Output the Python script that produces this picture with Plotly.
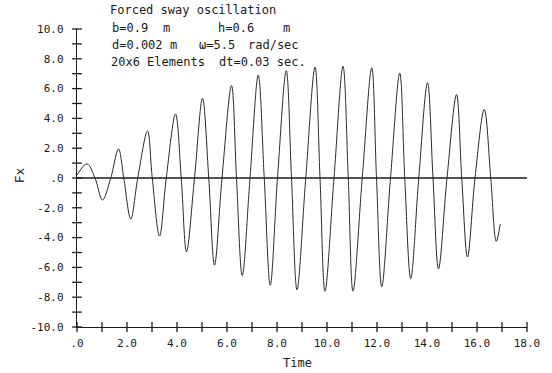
import plotly.graph_objects as go

# --- data ---
# extrema / zero crossings of the Fx(t) trace, in time order
t_pts = [0.00, 0.40, 0.72, 1.02, 1.35, 1.66, 1.87, 2.15, 2.43, 2.82, 3.01, 3.30, 3.57,
         3.94, 4.17, 4.38, 4.70, 5.02, 5.27, 5.50, 5.80, 6.18, 6.38, 6.61, 6.92,
         7.25, 7.49, 7.73, 8.02, 8.37, 8.58, 8.80, 9.15, 9.52, 9.72, 9.92, 10.28,
         10.64, 10.85, 11.04, 11.41, 11.79, 11.98, 12.19, 12.54, 12.91, 13.11, 13.35,
         13.67, 14.02, 14.24, 14.46, 14.80, 15.18, 15.39, 15.62, 15.92, 16.29, 16.55,
         16.77, 16.93]
fx_pts = [0.20, 0.95, 0.0, -1.48, 0.0, 1.95, 0.0, -2.75, 0.0, 3.15, 0.0, -3.90, 0.0,
          4.30, 0.0, -4.95, 0.0, 5.35, 0.0, -5.85, 0.0, 6.20, 0.0, -6.55, 0.0,
          6.90, 0.0, -7.20, 0.0, 7.20, 0.0, -7.50, 0.0, 7.45, 0.0, -7.60, 0.0,
          7.50, 0.0, -7.60, 0.0, 7.40, 0.0, -7.30, 0.0, 7.05, 0.0, -6.75, 0.0,
          6.40, 0.0, -6.10, 0.0, 5.60, 0.0, -5.30, 0.0, 4.60, 0.0, -4.25, -3.10]

x_ticks = [0, 2, 4, 6, 8, 10, 12, 14, 16, 18]
x_tick_labels = [".0", "2.0", "4.0", "6.0", "8.0", "10.0", "12.0", "14.0", "16.0", "18.0"]
y_ticks = [10, 8, 6, 4, 2, 0, -2, -4, -6, -8, -10]
y_tick_labels = ["10.0", "8.0", "6.0", "4.0", "2.0", ".0", "-2.0", "-4.0", "-6.0", "-8.0", "-10.0"]
x_minor = list(range(0, 19))
y_minor = list(range(-10, 11))
zero_line_t = [0, 18]
zero_line_v = [0, 0]

W, H = 552, 373
L, R, T, B = 77, 23, 29, 46
PW, PH = W - L - R, H - T - B
FONT = "DejaVu Sans Mono"
INK = "#1a1a1a"


def px(x):
    return (x - L) / PW


def py(y):
    return (H - B - y) / PH


fig = go.Figure()
fig.add_trace(go.Scatter(x=zero_line_t, y=zero_line_v, mode="lines",
                         line=dict(color=INK, width=1.4), hoverinfo="skip"))
fig.add_trace(go.Scatter(x=t_pts, y=fx_pts, mode="lines",
                         line=dict(color="#2a2a2a", width=1.0, shape="spline", smoothing=1.0),
                         hoverinfo="skip"))
# cross-shaped tick marks on both axes
fig.add_trace(go.Scatter(x=x_minor, y=[-10] * len(x_minor), mode="markers",
                         marker=dict(symbol="line-ns", size=7, line=dict(color=INK, width=1.3)),
                         cliponaxis=False, hoverinfo="skip"))
fig.add_trace(go.Scatter(x=[0] * len(y_minor), y=y_minor, mode="markers",
                         marker=dict(symbol="line-ew", size=7, line=dict(color=INK, width=1.3)),
                         cliponaxis=False, hoverinfo="skip"))

texts = [
    ("Forced sway oscillation", 108, 10, "left"),
    ("b=0.9", 110, 28, "left"), ("m", 161, 28, "left"), ("h=0.6", 217, 28, "left"),
    ("m", 282, 28, "left"),
    ("d=0.002", 110, 45, "left"), ("m", 168, 45, "left"), ("\u03c9=5.5", 198, 45, "left"),
    ("rad/sec", 247, 45, "left"),
    ("20x6 Elements", 109, 62, "left"), ("dt=0.03 sec.", 309, 62, "right"),
]
annotations = []
for s, x, y, anc in texts:
    annotations.append(dict(text=s, x=px(x), y=py(y), xref="paper", yref="paper",
                            xanchor=anc, yanchor="middle", showarrow=False,
                            font=dict(family=FONT, size=12, color=INK)))
annotations.append(dict(text="Fx", x=px(19), y=py(175), xref="paper", yref="paper",
                        xanchor="center", yanchor="middle", showarrow=False, textangle=-90,
                        font=dict(family=FONT, size=13, color=INK)))
annotations.append(dict(text="Time", x=px(298), y=py(363), xref="paper", yref="paper",
                        xanchor="center", yanchor="middle", showarrow=False,
                        font=dict(family=FONT, size=12, color=INK)))

fig.update_layout(
    width=W, height=H,
    margin=dict(l=L, r=R, t=T, b=B, pad=0),
    paper_bgcolor="white", plot_bgcolor="white",
    showlegend=False,
    annotations=annotations,
    xaxis=dict(range=[0, 18], showgrid=False, zeroline=False, showline=True,
               linecolor=INK, linewidth=1.4, tickmode="array", tickvals=x_ticks,
               ticktext=x_tick_labels, ticks="", ticklabelstandoff=6,
               tickfont=dict(family=FONT, size=11, color=INK)),
    yaxis=dict(range=[-10, 10], showgrid=False, zeroline=False, showline=True,
               linecolor=INK, linewidth=1.4, tickmode="array", tickvals=y_ticks,
               ticktext=y_tick_labels, ticks="", ticklabelstandoff=10,
               tickfont=dict(family=FONT, size=11, color=INK)),
)

fig.write_html("out.html")
